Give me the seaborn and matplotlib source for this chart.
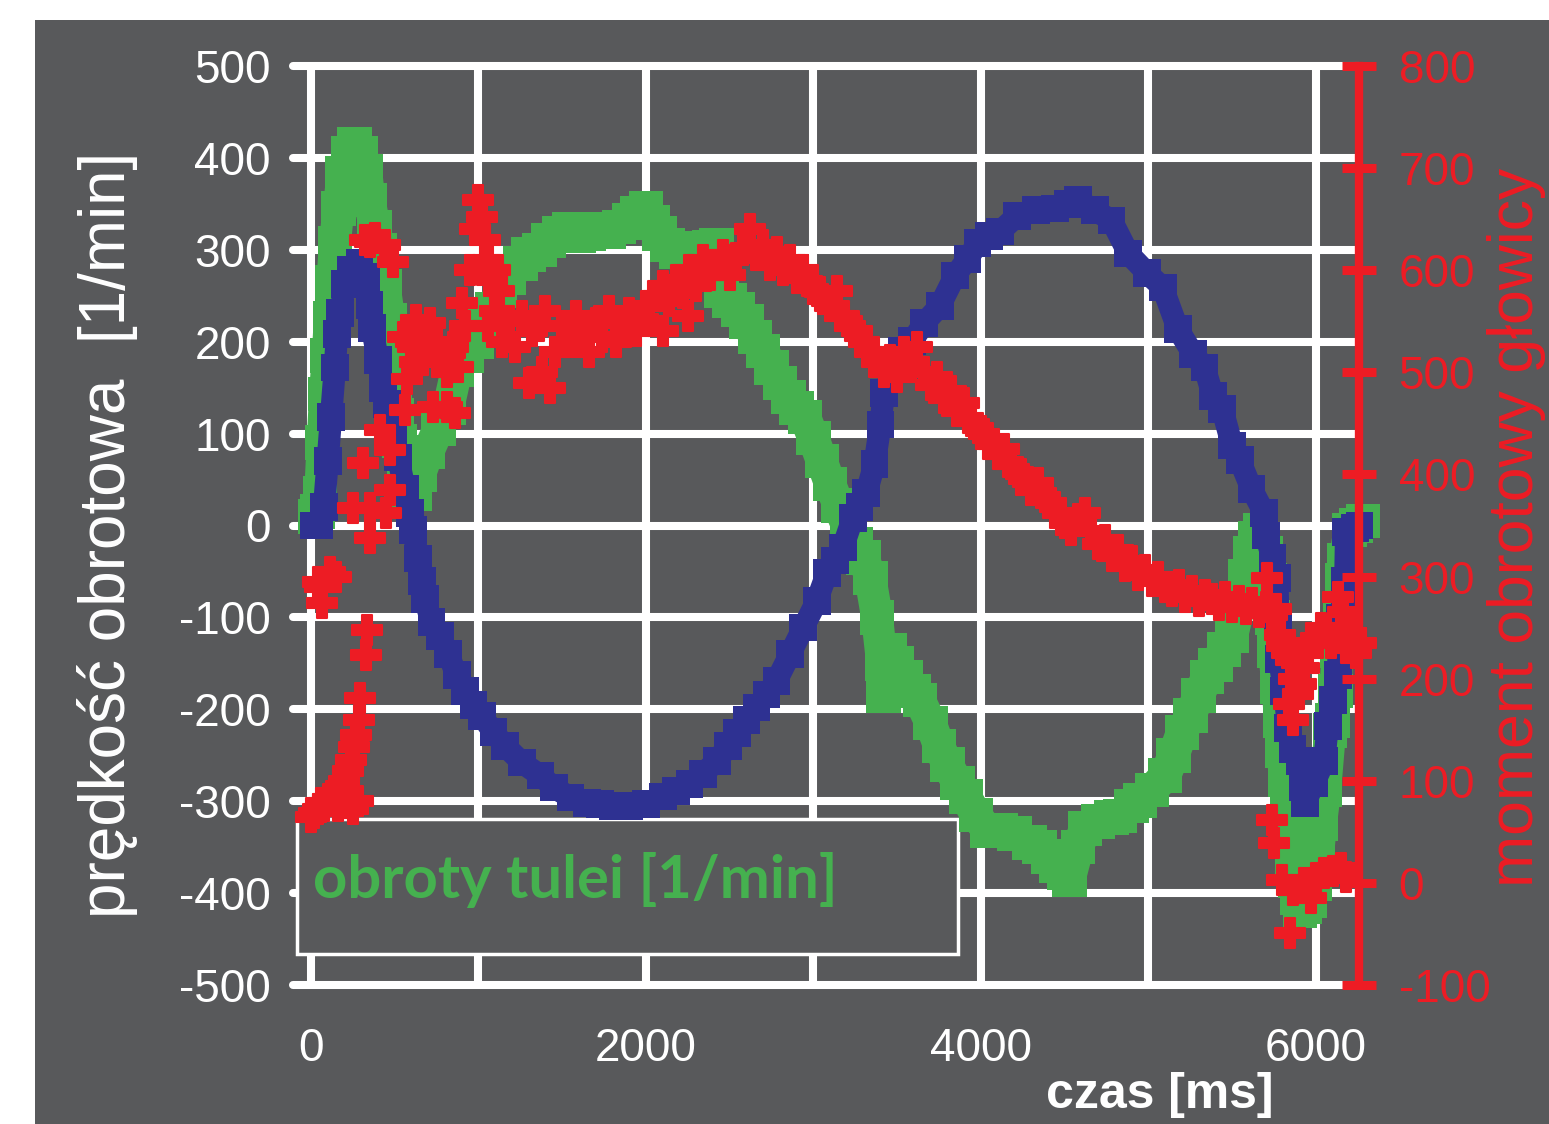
import matplotlib
matplotlib.use('Agg')
import matplotlib.pyplot as plt
import seaborn as sns
from matplotlib.patches import Rectangle

# ---------------- data ----------------
blue_t = [20, 50, 78, 100, 120, 143, 155, 175, 203, 240, 290, 330, 350, 365, 400, 430, 455, 490,
          520, 560, 590, 610, 640, 665, 680, 720, 770, 820, 870, 920, 970, 1020, 1090, 1160, 1260,
          1370, 1450, 1550, 1650, 1725, 1800, 1900, 2000, 2100, 2180, 2260, 2340, 2425, 2490, 2545,
          2600, 2660, 2720, 2780, 2860, 2940, 3020, 3080, 3130, 3175, 3235, 3275, 3315, 3365, 3400,
          3420, 3480, 3530, 3590, 3660, 3755, 3845, 3920, 3980, 4050, 4115, 4215, 4330, 4440, 4520,
          4580, 4680, 4780, 4880, 4990, 5085, 5175, 5265, 5335, 5385, 5440, 5500, 5545, 5615, 5690,
          5700, 5740, 5770, 5775, 5780, 5810, 5835, 5860, 5905, 5925, 5935, 5990, 6050, 6070, 6100,
          6130, 6145, 6170, 6175, 6180, 6235, 6260]
blue_v = [0, 0, 20, 70, 118, 172, 208, 231, 263, 278, 286, 270, 240, 215, 180, 150, 132, 100,
          74, 40, 14, -5, -36, -60, -80, -105, -120, -140, -163, -180, -195, -207, -225, -240, -258,
          -272, -285, -296, -302, -303, -305, -305, -303, -295, -289, -281, -270, -256, -240, -226,
          -212, -198, -184, -169, -140, -111, -82, -52, -38, -24, 8, 20, 35, 67, 110,
          144, 170, 190, 201, 220, 239, 272, 290, 307, 315, 320, 337, 343, 345, 350,
          354, 343, 332, 296, 275, 259, 214, 187, 172, 141, 127, 87, 71, 40, 14,
          -11, -35, -57, -100, -145, -180, -220, -243, -256, -285, -302, -280, -256, -218, -190,
          -163, -100, -82, -60, -7, -3, 0]

green_t = [25, 40, 55, 70, 84, 100, 113, 128, 143, 165, 190, 225, 260, 300, 330, 350, 380, 410,
           440, 470, 490, 500, 515, 530, 560, 590, 620, 650, 700, 760, 820, 870, 930, 990, 1040,
           1080, 1130, 1180, 1250, 1300, 1365, 1420, 1480, 1540, 1600, 1660, 1720, 1780, 1840, 1900,
           1950, 2000, 2040, 2080, 2130, 2180, 2230, 2280, 2330, 2380, 2420, 2450, 2500, 2550, 2600,
           2650, 2700, 2750, 2800, 2850, 2900, 2950, 3000, 3050, 3100, 3150, 3200, 3250, 3300, 3340,
           3380, 3410, 3420, 3455, 3500, 3550, 3600, 3635, 3700, 3750, 3800, 3860, 3910, 3970, 4040,
           4120, 4200, 4290, 4350, 4400, 4450, 4500, 4530, 4580, 4620, 4700, 4780, 4830, 4900, 4950,
           5020, 5100, 5150, 5200, 5250, 5300, 5350, 5400, 5450, 5500, 5550, 5580, 5610, 5640, 5665,
           5700, 5725, 5740, 5750, 5770, 5785, 5800, 5815, 5830, 5845, 5860, 5875, 5890, 5905, 5930,
           5965, 5990, 6010, 6030, 6055, 6085, 6100, 6115, 6130, 6145, 6160, 6170, 6200, 6240, 6280]
green_v = [10, 15, 35, 90, 143, 185, 226, 265, 307, 345, 383, 405, 415, 405, 385, 354, 325, 299,
           260, 223, 185, 147, 120, 92, 60, 35, 35, 55, 80, 105, 128, 169, 185, 200, 220,
           235, 255, 270, 285, 295, 300, 310, 318, 322, 315, 318, 322, 320, 325, 332,
           340, 345, 330, 318, 305, 298, 300, 302, 298, 303, 305, 255, 245, 235, 222,
           205, 190, 172, 155, 140, 128, 118, 95, 70, 45, 22, 0, -20, -35, -57,
           -100, -150, -185, -136, -150, -165, -180, -190, -215, -240, -260, -280, -295, -315, -332,
           -332, -335, -345, -350, -360, -370, -378, -385, -350, -330, -322, -318, -316, -305, -299,
           -288, -272, -250, -225, -207, -185, -165, -152, -135, -120, -82, -55, -30, -14, -5,
           -30, -60, -100, -136, -175, -212, -245, -277, -310, -343, -365, -386, -405, -419, -415,
           -408, -390, -364, -325, -288, -223, -212, -180, -136, -100, -60, -38, -5, 0, 5]

red_t = [0, 20, 40, 60, 80, 100, 120, 140, 160, 180, 200, 210, 220, 240, 250, 255, 270, 280, 290,
         295, 330, 335, 40, 55, 66, 113, 150, 352, 250, 310, 350, 410, 450, 470, 470, 320, 350, 380,
         440, 490, 550, 560, 575, 600, 620, 630, 650, 670, 700, 710, 730, 750, 780, 810, 810, 830,
         850, 860, 880, 900, 920, 950, 980, 1000, 1020, 1040, 1060, 1080, 1100, 1120,
         1060, 1100, 1140, 1180, 1220, 1260, 1300, 1320, 1360, 1380, 1400, 1430, 1460, 1500, 1540,
         1580, 1620, 1660, 1700, 1740, 1780, 1820, 1860, 1900, 1940, 1980, 2020,
         2060, 2100, 2100, 2140, 2180, 2220, 2250, 2260, 2300, 2340, 2380, 2420, 2460, 2500, 2540,
         2580, 2620, 2660, 2700, 2740, 2780, 2820, 2860, 2900, 2940, 2980,
         3020, 3060, 3100, 3140, 3180, 3220, 3260, 3300, 3340, 3380, 3420, 3460, 3500, 3540, 3580,
         3620, 3660, 3700, 3740, 3780, 3820, 3860, 3900, 3940, 3980, 4020, 4060, 4100, 4140, 4180,
         4220, 4260, 4300, 4340, 4380, 4420, 4460, 4500, 4540, 4580, 4620, 4660, 4700, 4740, 4780,
         4820, 4860, 4900, 4940, 4980, 5020, 5060, 5100, 5140, 5180, 5220, 5260, 5300, 5340, 5380,
         5420, 5460, 5500, 5540, 5580, 5620, 5660, 5700, 5705, 5740, 5760,
         5785, 5800, 5830, 5850, 5870, 5890, 5910, 5930, 5950, 5970, 6000, 6030, 6060, 6090, 6120,
         6130, 6150, 6160, 6180, 6210, 6240, 6270, 5840, 5860,
         5740, 5750, 5800, 5845, 5860, 5930, 5970, 6000, 6050, 6100, 6150, 6180]
red_m = [65, 68, 72, 78, 75, 82, 80, 88, 75, 95, 100, 78, 110, 120, 72, 133, 145, 80, 160,
         181, 223, 248, 295, 290, 274, 304, 300, 338, 367, 411, 367, 444, 362, 424, 385, 630, 628, 632,
         625, 608, 535, 463, 493, 530, 510, 551, 540, 512, 520, 548, 466, 530, 510, 500, 466, 519,
         525, 460, 505, 568, 545, 600, 640, 669, 652, 630, 610, 590, 600, 580,
         545, 560, 530, 550, 525, 555, 490, 540, 545, 500, 560, 485, 520, 545, 530,
         555, 540, 520, 548, 535, 560, 530, 548, 558, 540, 552, 565,
         575, 540, 585, 570, 590, 578, 555, 600, 585, 610, 595, 605, 615, 595, 612,
         620, 640, 615, 625, 605, 618, 600, 610, 592, 600, 588,
         580, 572, 565, 580, 555, 545, 540, 530, 520, 510, 500, 512, 495, 520, 505,
         525, 500, 488, 495, 475, 482, 462, 470, 452, 445, 440, 430, 420, 425, 410,
         402, 396, 385, 392, 378, 372, 362, 352, 346, 356, 362, 345, 332, 336, 320,
         326, 310, 315, 302, 306, 296, 300, 290, 286, 292, 280, 286, 276, 282, 278,
         272, 280, 270, 276, 268, 274, 265, 270, 299, 262, 268,
         243, 232, 225, 218, 200, 185, 195, 210, 225, 235, 240, 250, 245, 235, 240,
         280, 250, 265, 230, 245, 225, 235, 175, 160,
         62, 39, 3, -49, -7, 0, -15, 5, 10, 12, 15, 6]

# ---------------- style ----------------
GRAY = '#58595b'
GREEN = '#45b14f'
BLUE = '#2e3192'
RED = '#ed1c24'

sns.set_theme(style='dark')
plt.rcParams['font.family'] = ['Liberation Sans', 'DejaVu Sans']
plt.rcParams['axes.unicode_minus'] = False

fig = plt.figure(figsize=(15.49, 11.24), dpi=100)
fig.patch.set_facecolor('white')
fig.add_artist(Rectangle((35 / 1549, 0), 1, 1 - 20 / 1124, transform=fig.transFigure,
                         facecolor=GRAY, edgecolor='none', zorder=-10))

ax = fig.add_axes([293 / 1549, 139 / 1124, (1359 - 293) / 1549, (985 - 66) / 1124])
ax.set_facecolor(GRAY)
ax.set_xlim(-107, 6257)
ax.set_ylim(-500, 500)
ax.set_xticks(range(0, 7000, 1000))
ax.set_xticklabels(['0', '', '2000', '', '4000', '', '6000'])
ax.set_yticks(range(-500, 501, 100))
ax.grid(True, color='white', linewidth=5.8)
ax.set_axisbelow(True)
for ln in ax.get_xgridlines() + ax.get_ygridlines():
    ln.set_clip_on(False)
for s in ax.spines.values():
    s.set_visible(False)
ax.tick_params(axis='both', length=0, labelcolor='white', labelsize=33)
ax.tick_params(axis='y', pad=16)
ax.tick_params(axis='x', pad=30)

# green series
sns.lineplot(x=green_t, y=green_v, ax=ax, sort=False, estimator=None, color=GREEN,
             linewidth=23, zorder=3, clip_on=False)
sns.scatterplot(x=green_t, y=green_v, ax=ax, marker='s', s=620, color=GREEN,
                edgecolor='none', linewidth=0, zorder=3.1, clip_on=False)
# blue series
sns.lineplot(x=blue_t, y=blue_v, ax=ax, sort=False, estimator=None, color=BLUE,
             linewidth=16, zorder=3.2, clip_on=False)
sns.scatterplot(x=blue_t, y=blue_v, ax=ax, marker='s', s=400, color=BLUE,
                edgecolor='none', linewidth=0, zorder=3.3, clip_on=False)

# legend-like box
ax.add_patch(Rectangle((-84, -466), 3947, 147, facecolor=GRAY, edgecolor='white',
                       linewidth=2.5, zorder=2.5))
ax.text(12, -405, 'obroty tulei [1/min]', color=GREEN, fontsize=43, fontweight='bold',
        family=['Lato', 'DejaVu Sans'], ha='left', va='baseline', zorder=2.6)

# right axis
ax2 = ax.twinx()
ax2.set_ylim(-100, 800)
ax2.set_yticks(range(-100, 801, 100))
ax2.grid(False)
for k, s in ax2.spines.items():
    s.set_visible(k == 'right')
ax2.spines['right'].set_color(RED)
ax2.spines['right'].set_linewidth(6)
ax2.tick_params(axis='y', colors=RED, direction='inout', length=25, width=6.5,
                labelsize=33, pad=16)
sns.scatterplot(x=red_t, y=red_m, ax=ax2, marker='P', s=480, color=RED,
                edgecolor=RED, linewidth=1.5, zorder=4, clip_on=False)

# axis titles
fig.text(108 / 1549, 1 - 535 / 1124, 'prędkość obrotowa  [1/min]', rotation=90, color='white',
         fontsize=46, ha='center', va='center')
fig.text(1516 / 1549, 1 - 527 / 1124, 'moment obrotowy głowicy', rotation=90, color=RED,
         fontsize=45, ha='center', va='center')
fig.text(1160 / 1549, 1 - 1095 / 1124, 'czas [ms]', fontweight='bold', color='white',
         fontsize=36, ha='center', va='center')

fig.savefig('out.png', dpi=100)
